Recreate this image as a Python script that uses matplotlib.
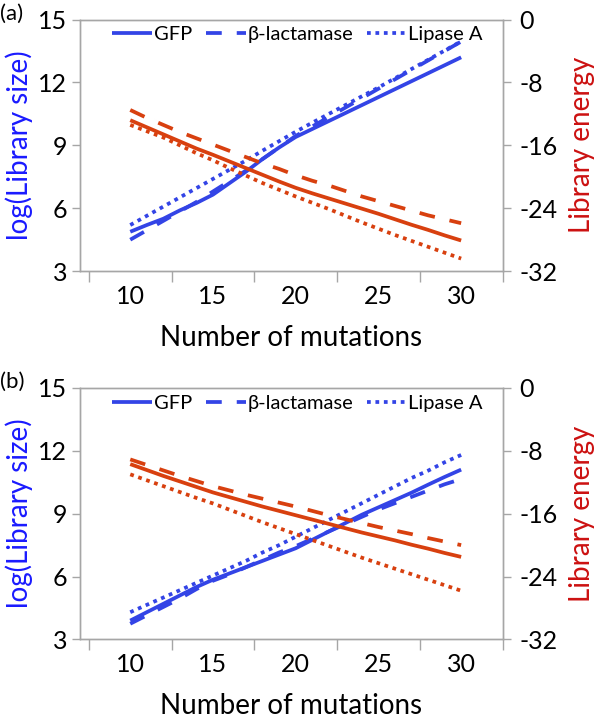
import matplotlib
matplotlib.use("Agg")
import matplotlib.pyplot as plt
import numpy as np

plt.rcParams['font.family'] = ['Lato', 'DejaVu Sans']
plt.rcParams['axes.unicode_minus'] = False

mutations = list(range(10, 31))
series_names = ["GFP", "β-lactamase", "Lipase A"]

# Panel (a): log(Library size), left axis
a_size_gfp = [4.88, 5.2, 5.5, 5.9, 6.25, 6.65, 7.2, 7.75, 8.35, 8.9, 9.4,
              9.78, 10.16, 10.54, 10.92, 11.3, 11.68, 12.06, 12.44, 12.82, 13.2]
a_size_bla = [4.5, 4.95, 5.4, 5.85, 6.3, 6.8, 7.3, 7.8, 8.35, 8.9, 9.45,
              9.9, 10.35, 10.8, 11.25, 11.7, 12.15, 12.6, 13.05, 13.5, 13.95]
a_size_lip = [5.2, 5.64, 6.08, 6.52, 6.96, 7.4, 7.84, 8.28, 8.75, 9.2, 9.65,
              10.08, 10.5, 10.92, 11.34, 11.76, 12.2, 12.64, 13.08, 13.52, 13.96]
# Panel (a): Library energy, right axis
a_en_gfp = [-12.8, -13.7, -14.6, -15.5, -16.4, -17.2, -18.05, -18.9, -19.75, -20.6, -21.4,
            -22.1, -22.75, -23.4, -24.05, -24.7, -25.4, -26.1, -26.75, -27.45, -28.1]
a_en_bla = [-11.5, -12.5, -13.4, -14.3, -15.1, -15.9, -16.7, -17.5, -18.3, -19.0, -19.8,
            -20.5, -21.1, -21.8, -22.5, -23.1, -23.7, -24.3, -24.9, -25.4, -25.9]
a_en_lip = [-13.4, -14.2, -15.0, -16.0, -17.0, -17.9, -18.9, -19.85, -20.8, -21.65, -22.5,
            -23.3, -24.1, -24.95, -25.8, -26.6, -27.4, -28.15, -28.9, -29.65, -30.4]

# Panel (b)
b_size_gfp = [3.9, 4.3, 4.7, 5.1, 5.5, 5.85, 6.15, 6.45, 6.75, 7.05, 7.35,
              7.75, 8.15, 8.55, 8.95, 9.3, 9.65, 10.0, 10.38, 10.75, 11.1]
b_size_bla = [3.75, 4.15, 4.55, 4.95, 5.4, 5.8, 6.1, 6.45, 6.8, 7.15, 7.45,
              7.8, 8.15, 8.5, 8.85, 9.2, 9.5, 9.8, 10.1, 10.4, 10.65]
b_size_lip = [4.3, 4.65, 5.0, 5.35, 5.7, 6.05, 6.4, 6.75, 7.15, 7.5, 7.9,
              8.3, 8.7, 9.1, 9.5, 9.9, 10.3, 10.7, 11.05, 11.45, 11.8]
b_en_gfp = [-9.7, -10.45, -11.2, -11.9, -12.6, -13.3, -13.9, -14.5, -15.1, -15.65, -16.2,
            -16.75, -17.3, -17.85, -18.4, -18.9, -19.4, -19.95, -20.45, -21.0, -21.5]
b_en_bla = [-9.1, -9.8, -10.5, -11.2, -11.85, -12.5, -13.05, -13.6, -14.1, -14.6, -15.1,
            -15.65, -16.2, -16.7, -17.2, -17.7, -18.15, -18.6, -19.1, -19.55, -20.0]
b_en_lip = [-11.0, -11.75, -12.5, -13.25, -14.0, -14.7, -15.5, -16.3, -17.1, -17.85, -18.6,
            -19.35, -20.1, -20.85, -21.6, -22.3, -23.0, -23.7, -24.4, -25.1, -25.8]

left_ticks = [3, 6, 9, 12, 15]
right_ticks = [-32, -24, -16, -8, 0]
x_label_ticks = [10, 15, 20, 25, 30]
x_mark_ticks = [7.5, 12.5, 17.5, 22.5, 27.5, 32.5]

BLUE = '#3344e6'
RED = '#d8400f'
GRAY = '#a6a6a6'
LW = 2.7
styles = ['-', (0, (4.2, 4.0)), (0, (1.0, 1.25))]

fig = plt.figure(figsize=(6.0, 7.25), dpi=100)

panels = [
    ("(a)", [0.133, 0.626, 0.7045, 0.347], (a_size_gfp, a_size_bla, a_size_lip), (a_en_gfp, a_en_bla, a_en_lip)),
    ("(b)", [0.133, 0.118, 0.7045, 0.347], (b_size_gfp, b_size_bla, b_size_lip), (b_en_gfp, b_en_bla, b_en_lip)),
]

for label, rect, sizes, energies in panels:
    ax = fig.add_axes(rect)
    ax2 = ax.twinx()
    handles = []
    for name, ys, ls in zip(series_names, sizes, styles):
        h, = ax.plot(mutations, ys, color=BLUE, lw=LW, linestyle=ls, label=name,
                     dash_capstyle='butt', solid_capstyle='butt')
        handles.append(h)
    for ys, ls in zip(energies, styles):
        ax2.plot(mutations, ys, color=RED, lw=LW, linestyle=ls,
                 dash_capstyle='butt', solid_capstyle='butt')
    ax.set_xlim(6.95, 32.5)
    ax.set_ylim(3, 15)
    ax2.set_ylim(-32, 0)
    ax.set_yticks(left_ticks)
    ax2.set_yticks(right_ticks)
    ax.set_xticks(x_label_ticks)
    ax.set_xticks(x_mark_ticks, minor=True)
    ax.tick_params(axis='x', which='major', length=0, pad=10, labelsize=18)
    ax.tick_params(axis='x', which='minor', length=8, width=1, color=GRAY, direction='out')
    ax.tick_params(axis='y', length=6, width=1, color=GRAY, labelsize=18, pad=3)
    ax2.tick_params(axis='y', length=6, width=1, color=GRAY, labelsize=18, pad=6)
    for a_ in (ax, ax2):
        for sp in a_.spines.values():
            sp.set_color(GRAY)
            sp.set_linewidth(1.0)
    ax.set_xlabel("Number of mutations", fontsize=20, labelpad=12)
    ax.set_ylabel("log(Library size)", fontsize=20, color='#1a1aff', labelpad=4)
    ax2.set_ylabel("Library energy", fontsize=20, color='#cc1111', labelpad=8)
    leg = ax2.legend(handles, series_names, loc='upper center', bbox_to_anchor=(0.515, 1.045),
                     ncol=3, frameon=False, fontsize=14.5, handlelength=2.0,
                     handletextpad=0.05, columnspacing=0.7)
    fig.text(0.0, rect[1] + rect[3] + 0.008, label, fontsize=16, ha='left', va='center')

fig.savefig("out.png", dpi=100)
